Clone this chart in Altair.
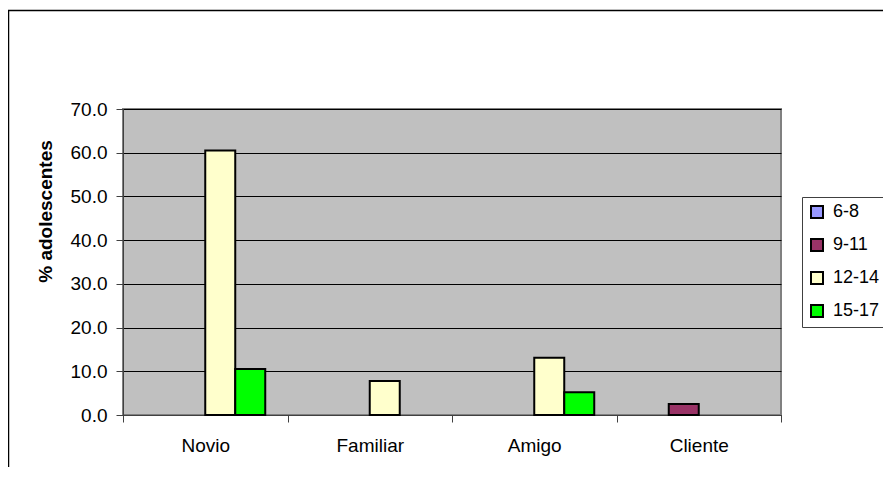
import altair as alt
import pandas as pd

categories = ["Novio", "Familiar", "Amigo", "Cliente"]
series = ["6-8", "9-11", "12-14", "15-17"]
values_6_8 = [0.0, 0.0, 0.0, 0.0]
values_9_11 = [0.0, 0.0, 0.0, 2.5]
values_12_14 = [60.5, 7.8, 13.1, 0.0]
values_15_17 = [10.5, 0.0, 5.2, 0.0]
colors = ["#9999FF", "#993366", "#FFFFCC", "#00FF00"]
y_ticks = [0, 10, 20, 30, 40, 50, 60, 70]

rows = []
for s, vals in zip(series, [values_6_8, values_9_11, values_12_14, values_15_17]):
    for c, v in zip(categories, vals):
        rows.append({"categoria": c, "edad": s, "valor": v})
df = pd.DataFrame(rows)

W, H = 658, 306
PAD = {"left": 115, "top": 101, "right": 102, "bottom": 52}
FONT = "Liberation Sans"

bars = alt.Chart(df).transform_filter("datum.valor > 0").mark_bar(
    stroke="black", strokeWidth=2
).encode(
    x=alt.X("categoria:N", sort=categories,
            scale=alt.Scale(paddingInner=0, paddingOuter=0),
            axis=alt.Axis(title=None, labelAngle=0, tickBand="extent",
                          tickSize=7, labelPadding=14, domainColor="#404040",
                          tickColor="#404040", labelFontSize=19, labelFont=FONT,
                          labelColor="black", grid=False)),
    xOffset=alt.XOffset("edad:N", sort=series,
                        scale=alt.Scale(domain=series, paddingInner=0, paddingOuter=0.742)),
    y=alt.Y("valor:Q",
            scale=alt.Scale(domain=[0, 70], nice=False),
            axis=alt.Axis(title="% adolescentes", values=y_ticks, format=".1f",
                          tickSize=7, labelPadding=9, labelFontSize=19, labelFont=FONT,
                          labelColor="black", domainColor="#404040", tickColor="#404040",
                          gridColor="black", gridWidth=1, grid=True,
                          titleFont=FONT, titleFontSize=19, titleFontWeight="bold",
                          titleColor="black", titleX=-78, titleY=102,
                          titleAlign="center", titleBaseline="middle", titleAngle=270)),
    color=alt.Color("edad:N", sort=series,
                    scale=alt.Scale(domain=series, range=colors),
                    legend=alt.Legend(title=None, orient="none", legendX=679, legendY=88,
                                      symbolType="square", symbolSize=144,
                                      symbolStrokeColor="black", symbolStrokeWidth=2,
                                      labelFontSize=18, labelFont=FONT, labelColor="black",
                                      strokeColor="#404040", padding=6, rowPadding=13,
                                      labelOffset=7, symbolOpacity=1)),
)

frame = alt.Chart(alt.Data(values=[{}])).mark_rect(
    fill="white", fillOpacity=0, stroke="black", strokeWidth=1.5, clip=False
).encode(
    x=alt.value(-114.5), x2=alt.value(W + 130),
    y=alt.value(-98.5), y2=alt.value(H + 60),
)

chart = alt.layer(frame, bars).properties(
    width=W, height=H,
    autosize=alt.AutoSizeParams(type="none"),
    padding=PAD,
).configure_view(
    fill="#C0C0C0", stroke="#808080", strokeWidth=2
)

chart.save("out.html", embed_options={"renderer": "svg", "actions": False})
